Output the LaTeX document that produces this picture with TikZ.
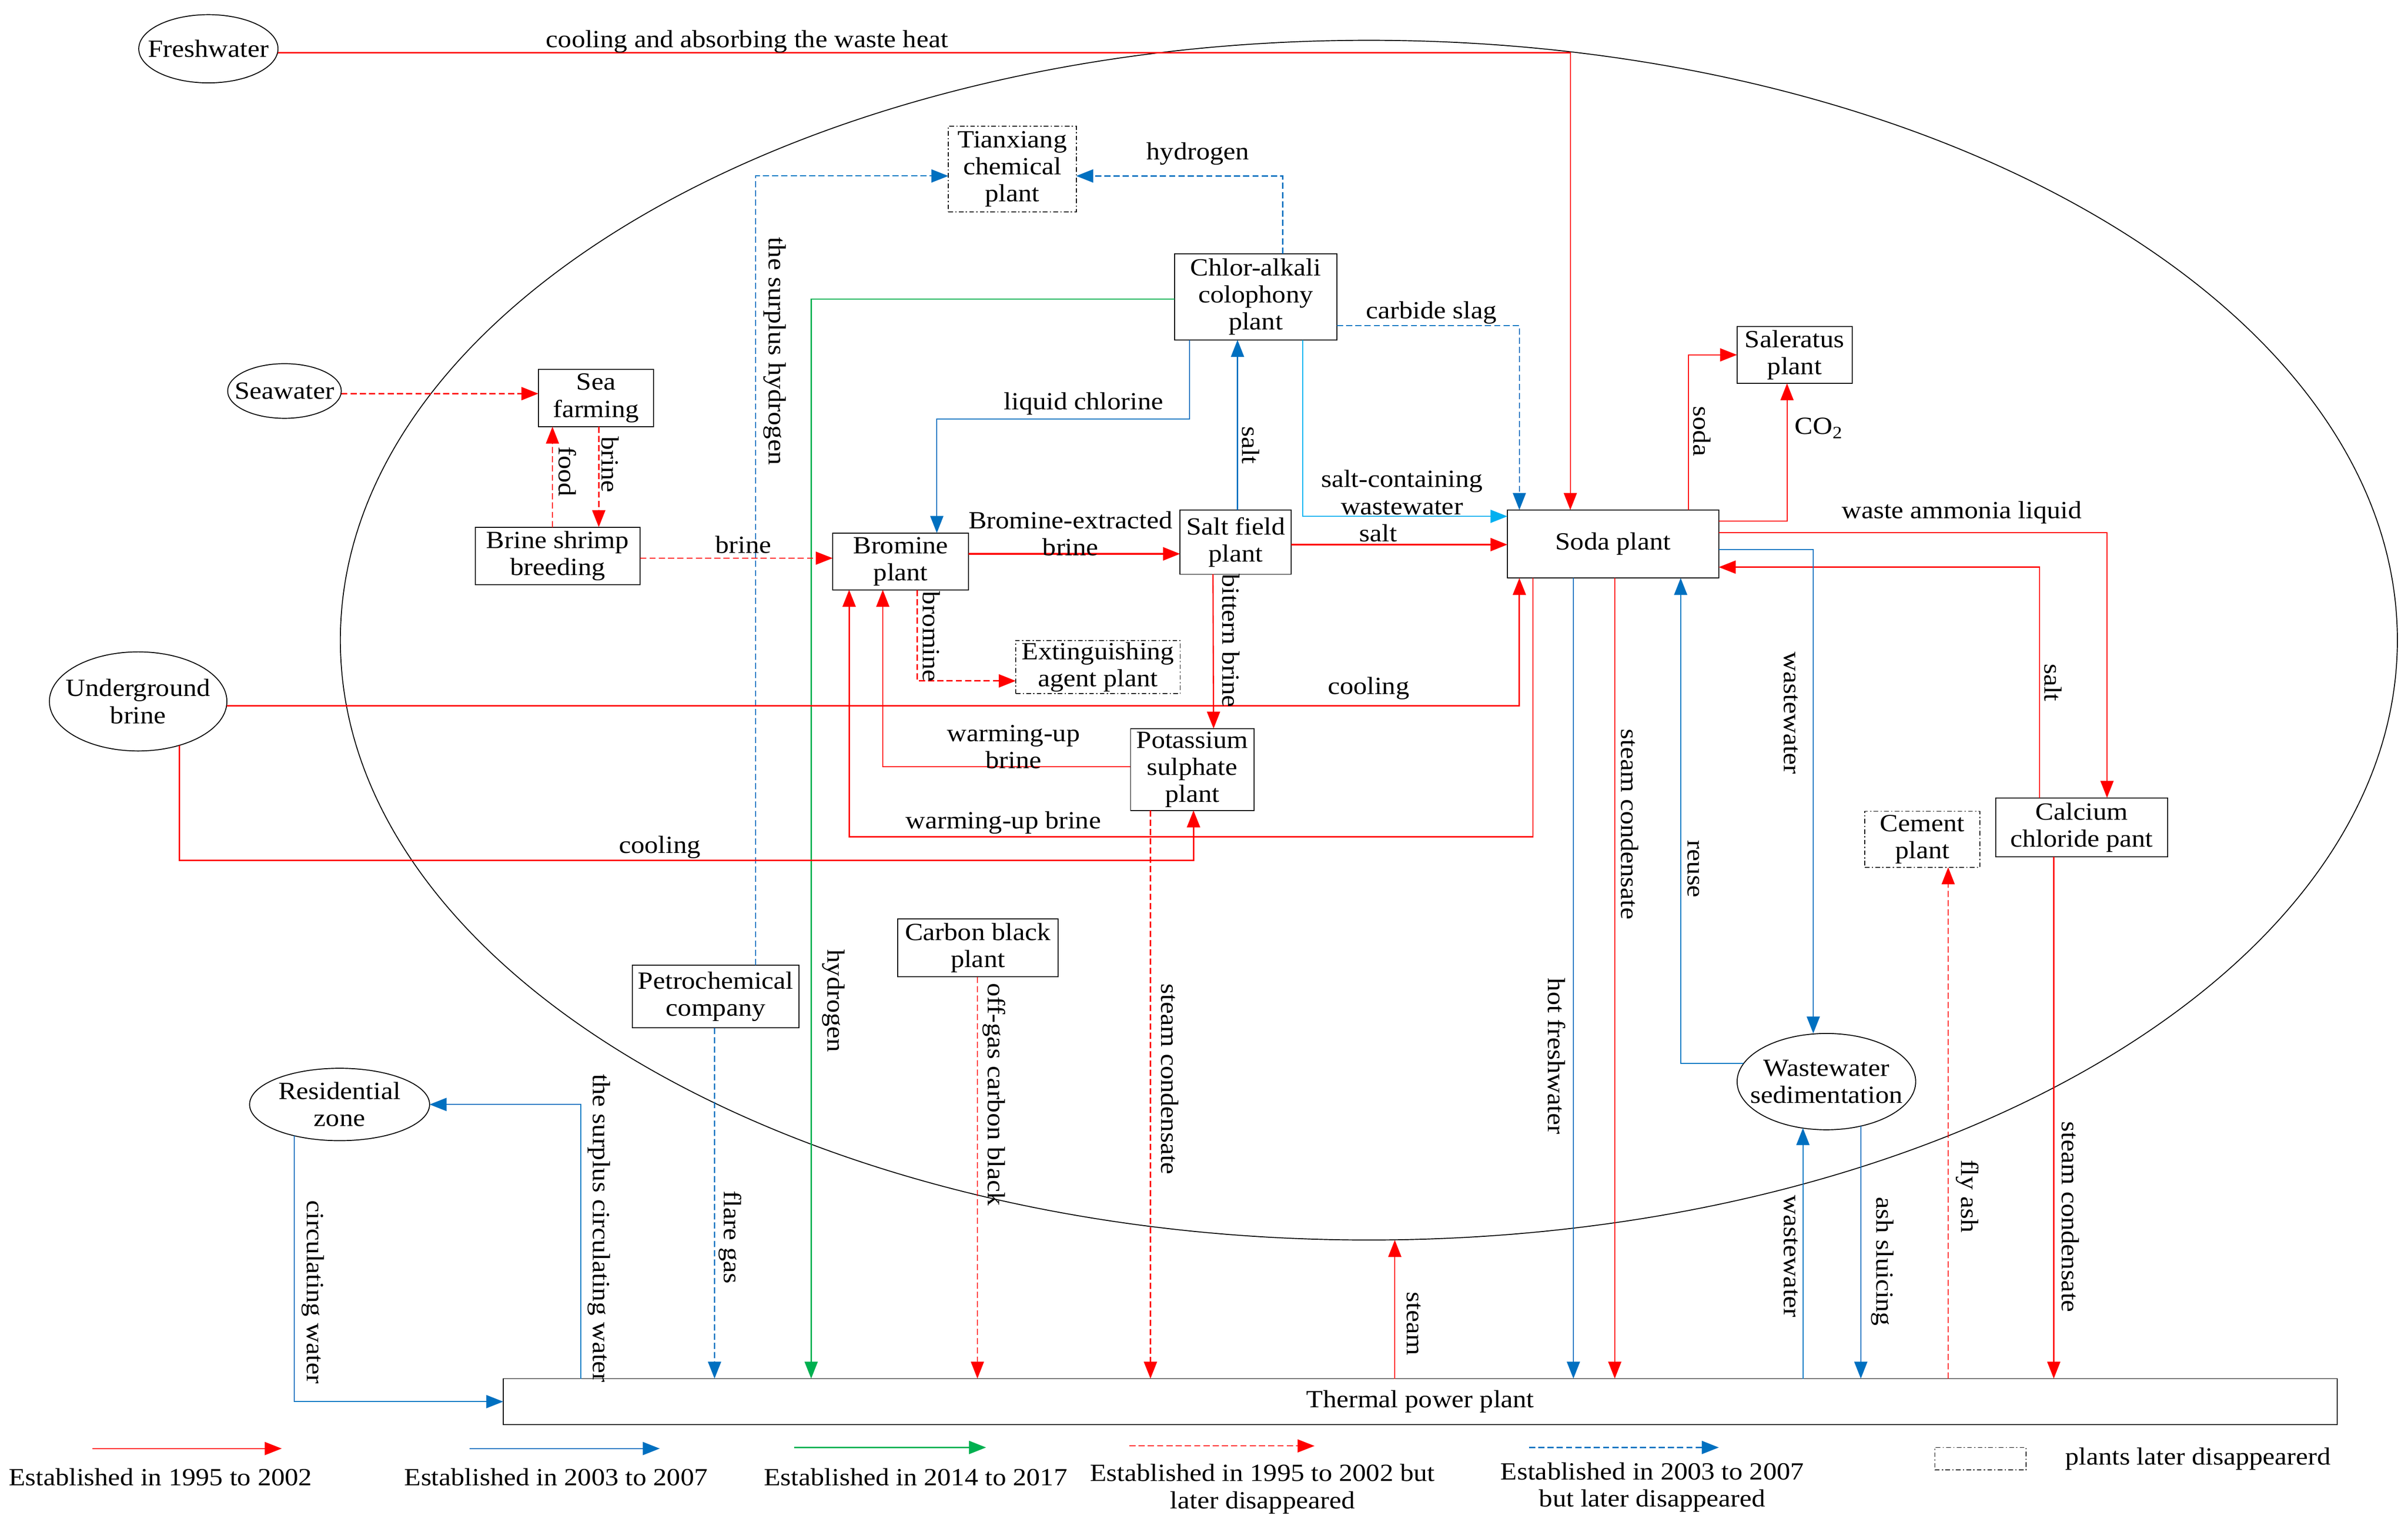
\documentclass[tikz,border=0pt]{standalone}
\usepackage{fontspec}
\setmainfont{Liberation Serif}[FakeStretch=1.1]
\usetikzlibrary{shapes.geometric,arrows.meta}
\definecolor{cred}{RGB}{255,0,0}
\definecolor{cblue}{RGB}{0,112,192}
\definecolor{cgreen}{RGB}{0,176,80}
\definecolor{clight}{RGB}{0,176,240}
\begin{document}
\begin{tikzpicture}[x=1pt,y=-1pt,
  every node/.style={font=\fontsize{16}{17.5}\selectfont, inner sep=0pt, outer sep=0pt},
  box/.style={draw, line width=0.6pt, rectangle, align=center},
  gone/.style={box, dash pattern=on 3pt off 1.5pt on 0.8pt off 1.5pt},
  oval/.style={draw, line width=0.6pt, ellipse},
  vl/.style={rotate=-90},
  arr/.style={-{Triangle[length=11pt,width=8.5pt]}},
  redln/.style={arr, color=cred, line width=0.7pt},
  redthk/.style={arr, color=cred, line width=1.1pt},
  reddsh/.style={arr, color=cred, line width=0.9pt, dash pattern=on 4pt off 2pt},
  redthin/.style={arr, color=cred, line width=0.5pt, dash pattern=on 4pt off 2pt},
  blueln/.style={arr, color=cblue, line width=0.7pt},
  bluedsh/.style={arr, color=cblue, line width=0.8pt, dash pattern=on 4pt off 2pt},
  greenln/.style={arr, color=cgreen, line width=0.8pt},
  lblueln/.style={arr, color=clight, line width=0.7pt}
]
\useasboundingbox (0,0) rectangle (1560,983.9);

% park boundary
\node[oval, minimum width=1332.6pt, minimum height=777.2pt] (park) at (886.8,414.7) {};

% ovals
\node[oval, minimum width=90.2pt, minimum height=44.2pt, label={center:Freshwater}] (fw) at (135,31.6) {};
\node[oval, minimum width=73.6pt, minimum height=35.4pt, label={center:Seawater}] (sea) at (184.3,253.3) {};
\node[oval, minimum width=115pt, minimum height=64.2pt, label={[align=center]center:Underground\\brine}] (ub) at (89.5,454.4) {};
\node[oval, minimum width=116.6pt, minimum height=46.9pt, label={[align=center]center:Residential\\zone}] (res) at (220,715.5) {};
\node[oval, minimum width=115.7pt, minimum height=62.4pt, label={[align=center]center:Wastewater\\sedimentation}] (wws) at (1183.2,700.7) {};

% boxes
\node[gone, minimum width=82.8pt, minimum height=55.6pt] (tian) at (655.8,109.5) {Tianxiang\\chemical\\plant};
\node[box, minimum width=105pt, minimum height=55.8pt] (chlor) at (813.5,192.3) {Chlor-alkali\\colophony\\plant};
\node[box, minimum width=74.6pt, minimum height=37pt] (seaf) at (386.1,257.9) {Sea\\farming};
\node[box, minimum width=106.9pt, minimum height=37.4pt] (bsb) at (361.3,360.2) {Brine shrimp\\breeding};
\node[box, minimum width=88.1pt, minimum height=36.8pt] (brom) at (583.5,363.7) {Bromine\\plant};
\node[box, minimum width=72pt, minimum height=41.5pt] (salt) at (800.5,351.3) {Salt field\\plant};
\node[box, minimum width=136.9pt, minimum height=44.1pt] (soda) at (1045,352.4) {Soda plant};
\node[box, minimum width=74.6pt, minimum height=36.9pt] (saler) at (1162.6,229.9) {Saleratus\\plant};
\node[gone, minimum width=106.5pt, minimum height=34.4pt] (ext) at (711.3,432.2) {Extinguishing\\agent plant};
\node[box, minimum width=80pt, minimum height=53pt] (pot) at (772.4,498.5) {Potassium\\sulphate\\plant};
\node[box, minimum width=111.1pt, minimum height=38.3pt] (calc) at (1348.6,536) {Calcium\\chloride pant};
\node[gone, minimum width=74.6pt, minimum height=36.3pt] (cem) at (1245.4,543.7) {Cement\\plant};
\node[box, minimum width=107.9pt, minimum height=40.6pt] (petro) at (463.7,645.6) {Petrochemical\\company};
\node[box, minimum width=104pt, minimum height=37.7pt] (cb) at (633.5,614) {Carbon black\\plant};
\node[box, minimum width=1188.2pt, minimum height=29.8pt] (tpp) at (920.1,908) {Thermal power plant};

% ---- connectors ----
% freshwater
\draw[redln] ([yshift=-2.6pt]fw.east) -| ([xshift=-27.7pt]soda.north);
\node (lfw) at (484,27) {cooling and absorbing the waste heat};
% hydrogen to Tianxiang
\draw[bluedsh] ([xshift=17.5pt]chlor.north) |- ([yshift=-4.5pt]tian.east);
\node (lh1) at (776,99.5) {hydrogen};
% surplus hydrogen
\draw[bluedsh, line width=0.6pt] ([xshift=25.8pt]petro.north) |- ([yshift=-4.5pt]tian.west);
\node[vl] (lsh) at (501.9,227.4) {the surplus hydrogen};
% green hydrogen
\draw[greenln] ([yshift=-1.5pt]chlor.west) -| ([xshift=-394.6pt]tpp.north);
\node[vl] (lh2) at (540,648.4) {hydrogen};
% liquid chlorine
\draw[blueln, line width=0.6pt] ([xshift=-42.9pt]chlor.south) -- ++(0,51.2) -| ([xshift=23.4pt]brom.north);
\node (llc) at (702,261.5) {liquid chlorine};
% seawater -> sea farming
\draw[reddsh] ([yshift=-1.7pt]sea.east) -- ([yshift=2.9pt]seaf.west);
% food
\draw[redthin] ([xshift=-3.4pt]bsb.north) -- ([xshift=-28.2pt]seaf.south);
\node[vl] (lfood) at (367.6,305.5) {food};
% brine sea farming -> brine shrimp
\draw[reddsh] ([xshift=1.8pt]seaf.south) -- ([xshift=26.6pt]bsb.north);
\node[vl] (lbr1) at (395.4,301) {brine};
% brine shrimp -> bromine
\draw[redthin] ([yshift=-1.4pt]bsb.east) -- ([yshift=2.1pt]brom.west);
\node (lbr2) at (481.5,352.8) {brine};
% bromine -> salt field
\draw[redthk] ([yshift=4.9pt]brom.east) -- ([yshift=-7.5pt]salt.west);
\node[align=center] (lbe) at (693.5,345.7) {Bromine-extracted\\brine};
% salt field -> chlor
\draw[blueln] ([xshift=1.2pt]salt.north) -- ([xshift=-11.8pt]chlor.south);
\node[vl] (lsalt1) at (810.4,288.4) {salt};
% salt-containing wastewater
\draw[lblueln] ([xshift=30.4pt]chlor.south) |- ([yshift=17.9pt]soda.west);
\node[align=center] (lscw) at (908.2,319) {salt-containing\\wastewater};
% salt field -> soda
\draw[redthk] ([yshift=-1.5pt]salt.east) -- ([yshift=-0.4pt]soda.west);
\node (lsalt2) at (892.8,345.3) {salt};
% carbide slag
\draw[bluedsh, line width=0.6pt] ([yshift=-18.7pt]chlor.east) -| ([xshift=-60.7pt]soda.north);
\node (lcs) at (927.2,202.7) {carbide slag};
% soda -> saleratus
\draw[redln] ([xshift=48.9pt]soda.north) |- (saler.west);
\node[vl] (lsoda) at (1102.6,279.4) {soda};
% CO2
\draw[redln] ([yshift=14.7pt]soda.east) -| ([xshift=-4.9pt]saler.south);
\node (lco2) at (1178.3,277.4) {CO\textsubscript{2}};
% waste ammonia liquid
\draw[redln] ([yshift=7.4pt]soda.east) -| ([xshift=16.4pt]calc.north);
\node (lwal) at (1270.9,332) {waste ammonia liquid};
% salt calc -> soda
\draw[redln] ([xshift=-27.3pt]calc.north) |- ([yshift=-15pt]soda.east);
\node[vl] (lsalt3) at (1330,442.2) {salt};
% wastewater soda -> sedimentation
\draw[blueln] ([yshift=-3.6pt]soda.east) -| ([xshift=-8.5pt]wws.north);
\node[vl] (lww1) at (1160.3,462) {wastewater};
% reuse
\draw[blueln] ([shift={(4.2,-11.7)}]wws.west) -| ([xshift=43.8pt]soda.south);
\node[vl] (lreuse) at (1097,563) {reuse};
% cooling underground -> soda
\draw[redln, line width=1pt] ([yshift=-2.9pt]ub.east) -| ([xshift=-60.7pt]soda.south);
\node (lcool1) at (886.6,446) {cooling};
% warming-up brine soda -> bromine
\draw[redln, line width=0.9pt] ([xshift=-51.9pt]soda.south) -- ++(0,167.6) -| ([xshift=-33.4pt]brom.south);
\node (lwarm1) at (650,533.1) {warming-up brine};
% warming-up brine potassium -> bromine
\draw[redln, line width=0.6pt] ([yshift=1.7pt]pot.west) -| ([xshift=-11.6pt]brom.south);
\node[align=center] (lwarm2) at (656.6,483.7) {warming-up\\brine};
% bromine -> extinguishing
\draw[reddsh] ([xshift=10.7pt]brom.south) |- ([yshift=-8.9pt]ext.west);
\node[vl] (lbrom) at (603.3,412.4) {bromine};
% bittern brine
\draw[redln, line width=0.8pt] ([xshift=-14.7pt]salt.south) -- ([xshift=13.8pt]pot.north);
\node[vl] (lbit) at (797.4,415) {bittern brine};
% cooling underground -> potassium
\draw[redln, line width=1pt] ([shift={(26.6,-3.6)}]ub.south) -- ++(0,74.6) -| ([xshift=0.8pt]pot.south);
\node (lcool2) at (427.4,549) {cooling};
% steam condensate potassium -> thermal
\draw[reddsh] ([xshift=-27.1pt]pot.south) -- ([xshift=-174.8pt]tpp.north);
\node[vl] (lsc1) at (758,699.1) {steam condensate};
% flare gas
\draw[bluedsh] ([xshift=-0.8pt]petro.south) -- ([xshift=-457.2pt]tpp.north);
\node[vl] (lflare) at (473,801.5) {flare gas};
% off-gas carbon black
\draw[redthin] ([xshift=-0.3pt]cb.south) -- ([xshift=-286.9pt]tpp.north);
\node[vl] (loff) at (643.9,709) {off-gas carbon black};
% surplus circulating water
\draw[blueln] ([xshift=-543.9pt]tpp.north) |- (res.east);
\node[vl] (lscw2) at (387.9,795.7) {the surplus circulating water};
% circulating water
\draw[blueln] ([shift={(-29.4,-3.2)}]res.south) |- (tpp.west);
\node[vl] (lcw) at (202.8,837) {circulating water};
% steam
\draw[redln] ([xshift=-16.5pt]tpp.north) -- ([xshift=16.8pt]park.south);
\node[vl] (lsteam) at (915.9,857.6) {steam};
% hot freshwater
\draw[blueln] ([xshift=-25.7pt]soda.south) -- ([xshift=99.2pt]tpp.north);
\node[vl] (lhf) at (1008.5,684.2) {hot freshwater};
% steam condensate soda -> thermal
\draw[redln] ([xshift=1.1pt]soda.south) -- ([xshift=126pt]tpp.north);
\node[vl] (lsc2) at (1055.8,534) {steam condensate};
% wastewater thermal -> sedimentation
\draw[blueln] ([xshift=247.9pt]tpp.north) -- ([shift={(-15.2,-1.1)}]wws.south);
\node[vl] (lww2) at (1160.3,813.9) {wastewater};
% ash sluicing
\draw[blueln] ([shift={(22.3,-2.4)}]wws.south) -- ([xshift=285.4pt]tpp.north);
\node[vl] (lash) at (1219.4,817.2) {ash sluicing};
% fly ash
\draw[redthin] ([xshift=342pt]tpp.north) -- ([xshift=16.7pt]cem.south);
\node[vl] (lfly) at (1274.5,775) {fly ash};
% steam condensate calcium -> thermal
\draw[redln] ([xshift=-18.1pt]calc.south) -- ([xshift=410.4pt]tpp.north);
\node[vl] (lsc3) at (1341.3,788.3) {steam condensate};

% ---- legend ----
\coordinate (la1) at (59.8,938.4); \coordinate (la2) at (182.5,938.4);
\draw[redln] (la1) -- (la2);
\node (lt1) at (103.9,956.9) {Established in 1995 to 2002};
\coordinate (lb1) at (304.2,938.4); \coordinate (lb2) at (427.4,938.4);
\draw[blueln] (lb1) -- (lb2);
\node (lt2) at (360.2,956.9) {Established in 2003 to 2007};
\coordinate (lc1) at (514.6,937.7); \coordinate (lc2) at (638.8,937.7);
\draw[greenln] (lc1) -- (lc2);
\node (lt3) at (593.2,956.9) {Established in 2014 to 2017};
\coordinate (ld1) at (731.6,936.7); \coordinate (ld2) at (851.6,936.7);
\draw[redthin] (ld1) -- (ld2);
\node[align=center] (lt4) at (817.9,964.6) {Established in 1995 to 2002 but\\later disappeared};
\coordinate (le1) at (990.5,937.7); \coordinate (le2) at (1113.5,937.7);
\draw[bluedsh] (le1) -- (le2);
\node[align=center] (lt5) at (1070.4,963.6) {Established in 2003 to 2007\\but later disappeared};
\node[gone, minimum width=59.1pt, minimum height=14.6pt] (lbox) at (1283,945) {};
\node (lt6) at (1423.9,945) {plants later disappearerd};
\end{tikzpicture}
\end{document}
